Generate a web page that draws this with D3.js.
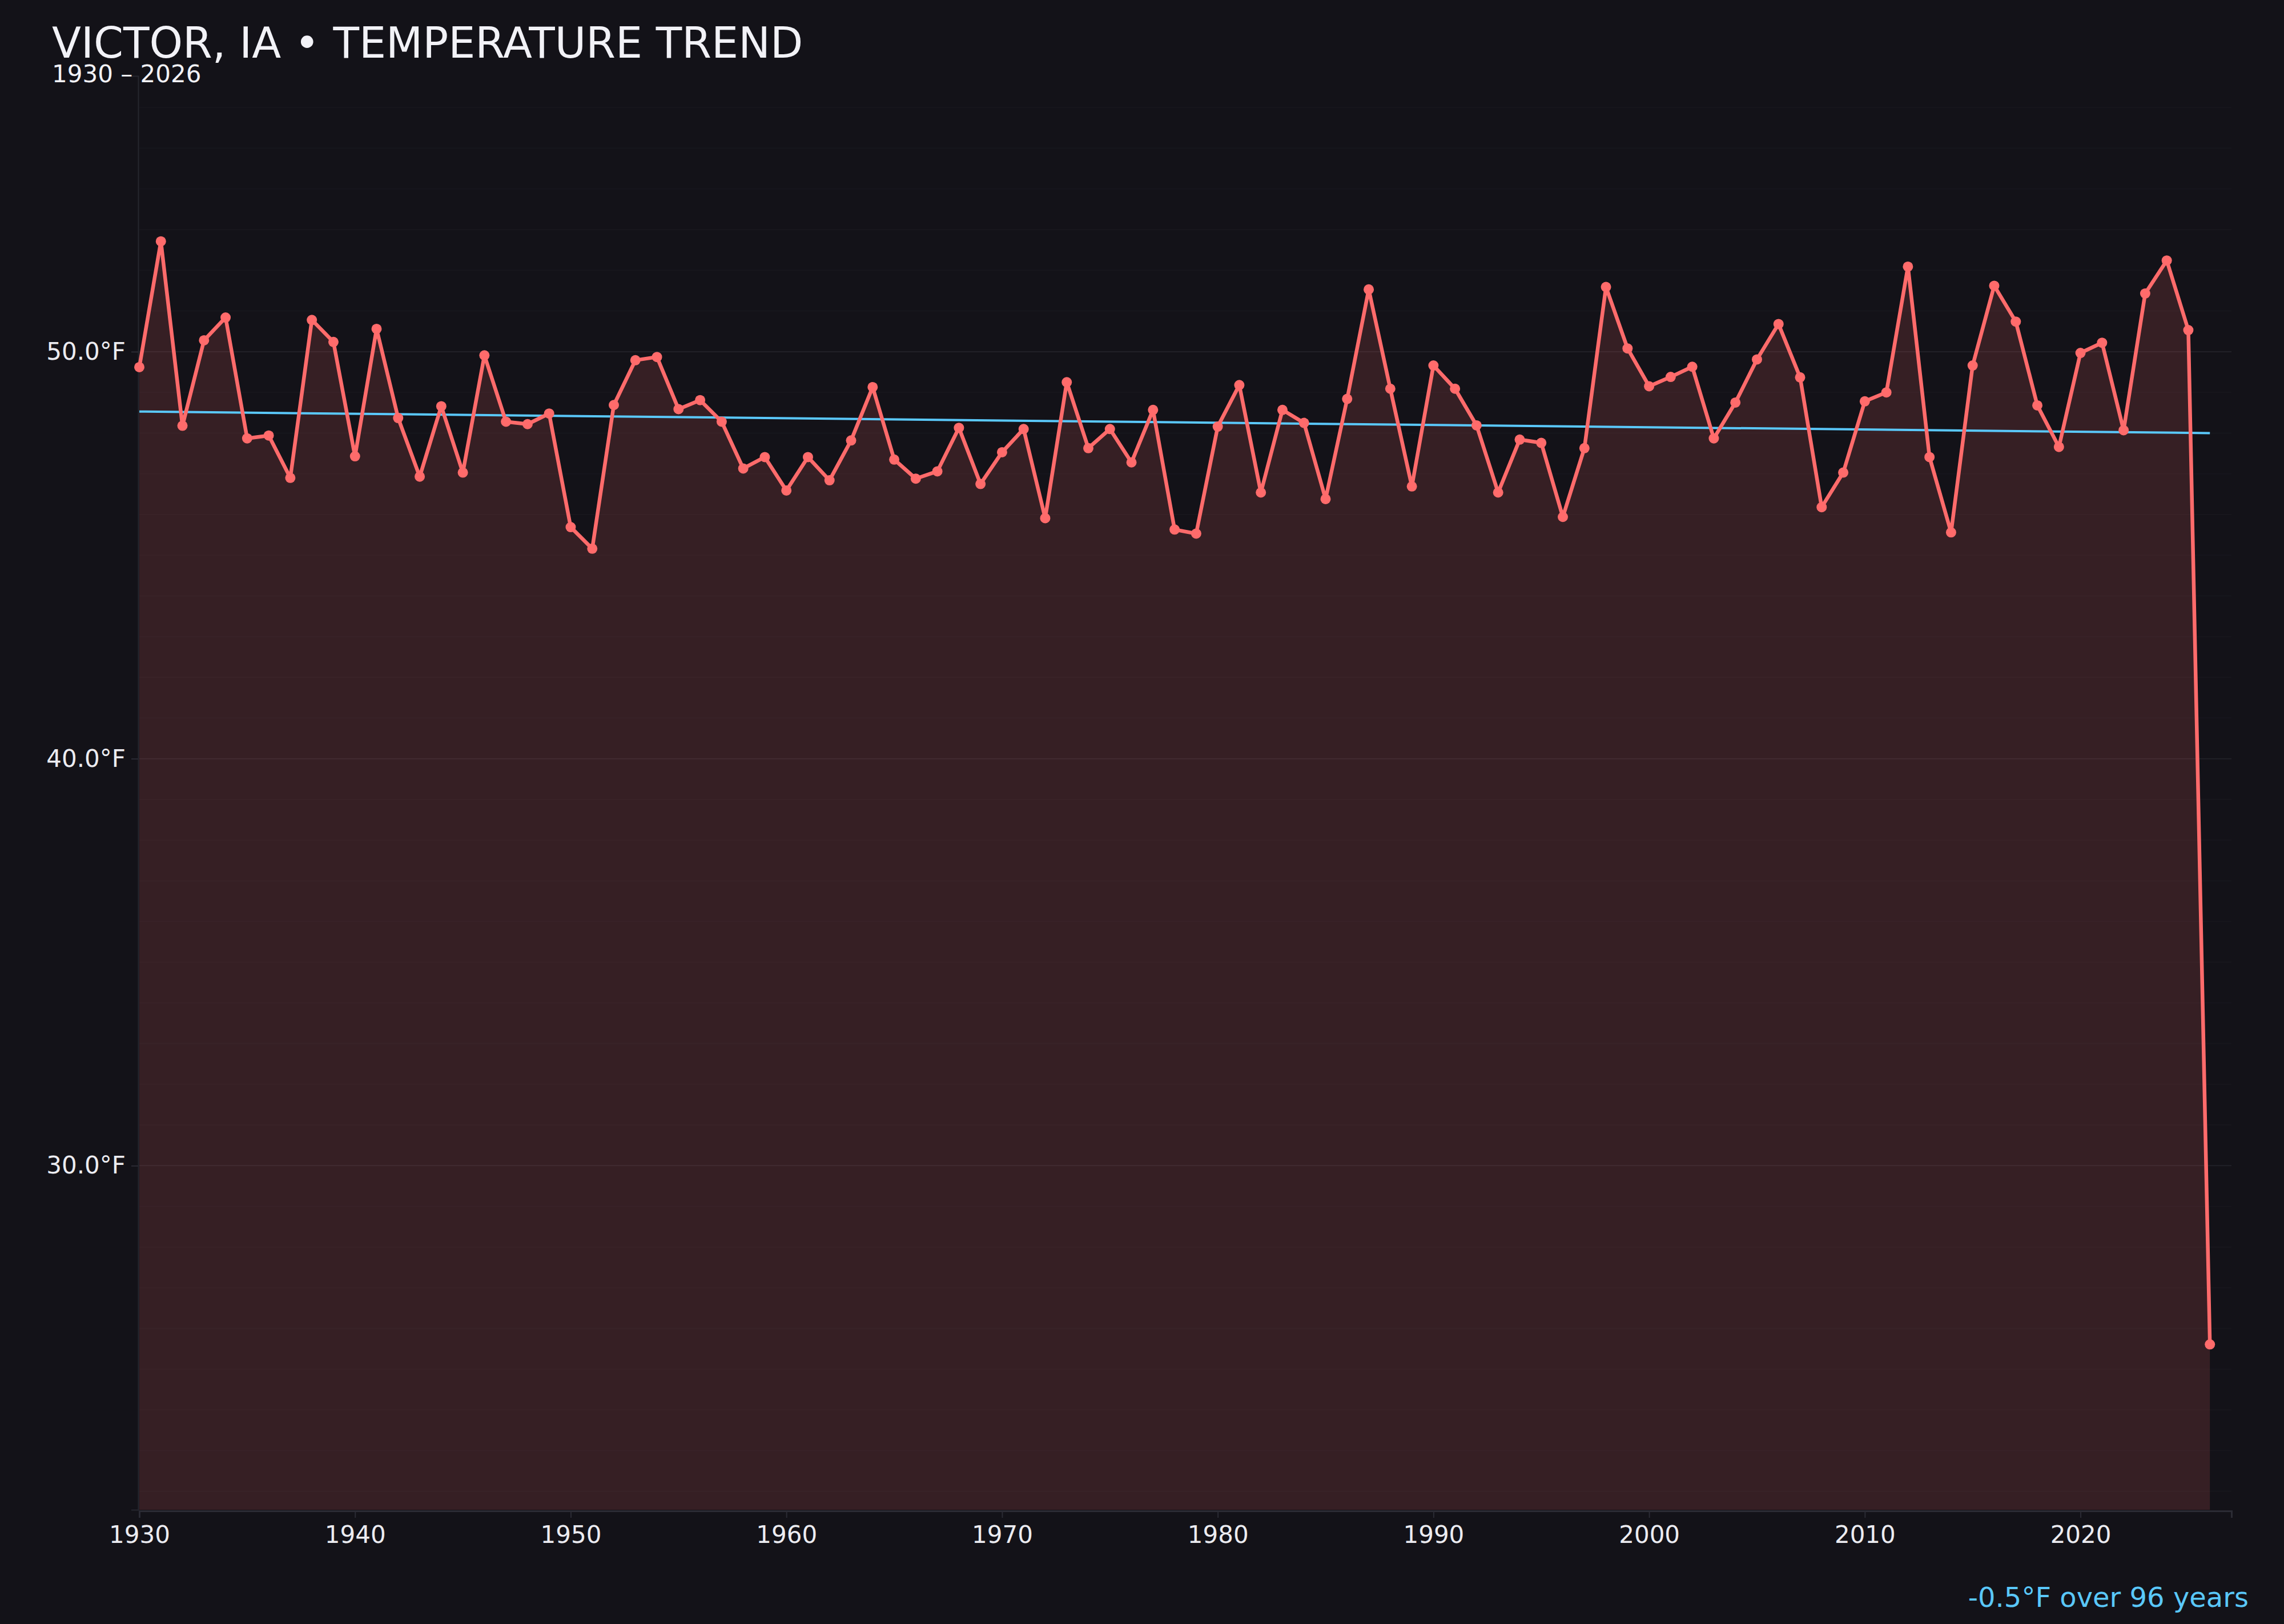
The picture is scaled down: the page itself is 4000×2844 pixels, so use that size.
<!DOCTYPE html>
<html><head><meta charset="utf-8">
<script src="https://cdn.jsdelivr.net/npm/d3@7"></script>
<style>
html,body{margin:0;padding:0;background:#131218;}
svg{display:block;}
text{font-family:"DejaVu Sans",sans-serif;}
</style></head><body>
<script>
const startYear = 1930;
const temps = [
  49.62, 52.71, 48.18, 50.28, 50.84, 47.87, 47.94, 46.90, 50.78, 50.24,
  47.43, 50.56, 48.37, 46.93, 48.66, 47.03, 49.91, 48.28, 48.22, 48.48,
  45.69, 45.16, 48.69, 49.79, 49.87, 48.59, 48.81, 48.28, 47.13, 47.41,
  46.59, 47.41, 46.84, 47.82, 49.13, 47.35, 46.88, 47.06, 48.13, 46.75,
  47.53, 48.10, 45.91, 49.25, 47.63, 48.10, 47.28, 48.57, 45.63, 45.53,
  48.16, 49.18, 46.54, 48.57, 48.25, 46.38, 48.84, 51.53, 49.09, 46.69,
  49.66, 49.09, 48.19, 46.54, 47.84, 47.76, 45.94, 47.63, 51.59, 50.08,
  49.15, 49.38, 49.63, 47.87, 48.75, 49.81, 50.68, 49.37, 46.18, 47.03,
  48.78, 49.00, 52.09, 47.41, 45.56, 49.66, 51.62, 50.74, 48.68, 47.66,
  49.97, 50.22, 48.07, 51.43, 52.24, 50.53, 25.61
];
const years = d3.range(startYear, startYear + temps.length);
const trendYears = [1930, 2026];
const trendValues = [48.53, 48.0];
const yTickValues = [30, 40, 50];
const xTickValues = [1930, 1940, 1950, 1960, 1970, 1980, 1990, 2000, 2010, 2020];
const titleText = "VICTOR, IA \u2022 TEMPERATURE TREND";
const subtitleText = "1930 \u2013 2026";
const trendLabel = "-0.5\u00B0F over 96 years";

const W = 4000, H = 2844;
const m = {left: 244, right: 92, top: 133, bottom: 200};

const data = years.map((yr, i) => ({year: yr, value: temps[i]}));

const svg = d3.select("body").append("svg").attr("width", W).attr("height", H);
svg.append("rect").attr("width", W).attr("height", H).attr("fill", "#131218");

const x = d3.scaleLinear().domain([1930, 2027]).range([m.left, W - m.right]);
const ext = d3.extent(temps);
const pad = (ext[1] - ext[0]) * 0.15;
const y = d3.scaleLinear().domain([ext[0] - pad, ext[1] + pad]).range([H - m.bottom, m.top]);

// grid
const g = svg.append("g");
g.selectAll("line.grid").data(y.ticks(35)).join("line")
  .attr("x1", m.left).attr("x2", W - m.right)
  .attr("y1", d => y(d)).attr("y2", d => y(d))
  .attr("stroke", d => d % 10 === 0 ? "#212027" : "#17161c")
  .attr("stroke-width", 2);

// area
const area = d3.area().x(d => x(d.year)).y0(y.range()[0]).y1(d => y(d.value));
svg.append("path").datum(data).attr("d", area)
  .attr("fill", "#ff6b6b").attr("fill-opacity", 0.15);

// axes
const xAxis = svg.append("g").attr("transform", `translate(0,${H - m.bottom + 2})`)
  .call(d3.axisBottom(x).tickValues(xTickValues).tickFormat(d3.format("d")).tickSize(12).tickPadding(14));
xAxis.select(".domain").attr("stroke", "#2b2b34").attr("stroke-width", 3);
xAxis.selectAll(".tick line").attr("stroke", "#2b2b34").attr("stroke-width", 2);
xAxis.selectAll(".tick text").attr("fill", "#ececf1").attr("font-size", 42)
  .attr("font-family", "DejaVu Sans");

const yAxis = svg.append("g").attr("transform", `translate(${m.left - 2},0)`)
  .call(d3.axisLeft(y).tickValues(yTickValues).tickFormat(d => d3.format(".1f")(d) + "\u00B0F").tickSize(12).tickPadding(10));
yAxis.select(".domain").attr("stroke", "#26262e").attr("stroke-width", 2);
yAxis.selectAll(".tick line").attr("stroke", "#2b2b34").attr("stroke-width", 2);
yAxis.selectAll(".tick text").attr("fill", "#ececf1").attr("font-size", 42)
  .attr("font-family", "DejaVu Sans");

// trend line
const trendData = trendYears.map((yr, i) => ({year: yr, value: trendValues[i]}));
svg.append("path").datum(trendData)
  .attr("d", d3.line().x(d => x(d.year)).y(d => y(d.value)))
  .attr("fill", "none").attr("stroke", "#5ac8fa").attr("stroke-width", 4);

// line
svg.append("path").datum(data)
  .attr("d", d3.line().x(d => x(d.year)).y(d => y(d.value)))
  .attr("fill", "none").attr("stroke", "#ff6b6b").attr("stroke-width", 6.5)
  .attr("stroke-linejoin", "round");

svg.append("g").selectAll("circle").data(data).join("circle")
  .attr("cx", d => x(d.year)).attr("cy", d => y(d.value)).attr("r", 9)
  .attr("fill", "#ff6b6b");

// titles
svg.append("text").attr("x", 91).attr("y", 101).attr("font-size", 74.5)
  .attr("fill", "#f2f2f7").text(titleText);
svg.append("text").attr("x", 91).attr("y", 144).attr("font-size", 42)
  .attr("fill", "#f2f2f7").text(subtitleText);
svg.append("text").attr("x", 3938).attr("y", 2814).attr("font-size", 48)
  .attr("text-anchor", "end").attr("fill", "#5ac8fa").text(trendLabel);
</script>
</body></html>
